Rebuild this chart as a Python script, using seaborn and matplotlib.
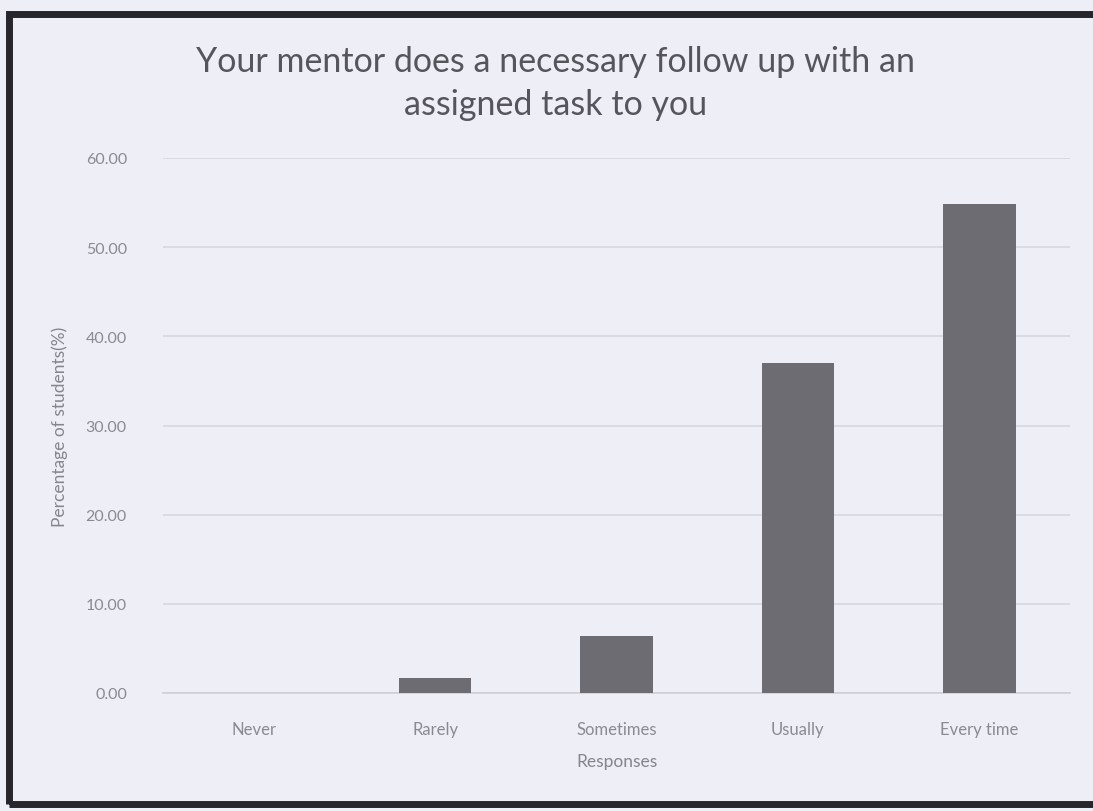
import matplotlib
matplotlib.use("Agg")
import matplotlib.pyplot as plt
import seaborn as sns
import pandas as pd
from matplotlib.patches import Rectangle

categories = ["Never", "Rarely", "Sometimes", "Usually", "Every time"]
values = [0.0, 1.7, 6.4, 37.0, 54.8]
yticks = [0, 10, 20, 30, 40, 50, 60]

sns.set_theme(style="white")
plt.rcParams['font.family'] = ['Lato', 'DejaVu Sans']

bg = "#eeeef7"
fig = plt.figure(figsize=(10.93, 8.12), dpi=100, facecolor=bg)
ax = fig.add_axes([163/1093, 1 - 694/812, (1070-163)/1093, (694-159)/812])
ax.set_facecolor(bg)

df = pd.DataFrame({"Responses": categories, "Pct": values})
sns.barplot(data=df, x="Responses", y="Pct", color="#6c6c72", width=0.4,
            saturation=1, linewidth=0, ax=ax, zorder=3)

ax.set_ylim(0, 60)
ax.set_xlim(-0.5, 4.5)
ax.set_yticks(yticks)
ax.set_yticklabels([f"{v:.2f}" for v in yticks], fontsize=11.5, color="#8a8a90")
ax.tick_params(axis="x", labelsize=12, colors="#8a8a90", length=0, pad=20)
ax.tick_params(axis="y", length=0, pad=26)
ax.grid(axis="y", color="#d6d6de", linewidth=1.2, zorder=0)
for s in ["top", "right", "left"]:
    ax.spines[s].set_visible(False)
ax.spines["bottom"].set_color("#cfcfd6")
ax.spines["bottom"].set_linewidth(1.2)

ax.set_xlabel("Responses", fontsize=12.5, color="#85858b", labelpad=12)
ax.set_ylabel("Percentage of students(%)", fontsize=12.5, color="#85858b")
ax.yaxis.set_label_coords(-0.105, 0.5)

fig.text(0.508, 0.897, "Your mentor does a necessary follow up with an\nassigned task to you",
         ha="center", va="center", fontsize=24.5, color="#55555b", linespacing=1.4)

frame = Rectangle((9/1093, 7/812), 1.02, 1 - 7/812 - 15/812, transform=fig.transFigure,
                  fill=False, edgecolor="#26262c", linewidth=5, zorder=10)
fig.patches.append(frame)

fig.savefig("out.png", dpi=100, facecolor=bg)
